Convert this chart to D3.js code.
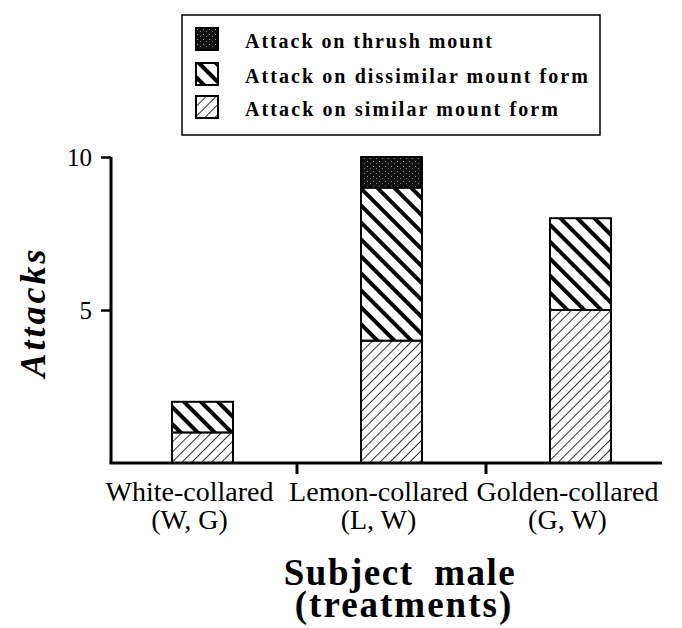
<!DOCTYPE html>
<html>
<head>
<meta charset="utf-8">
<script src="https://cdn.jsdelivr.net/npm/d3@7"></script>
<style>
  body { margin: 0; background: #fff; }
  text { font-family: "Liberation Serif", "Times New Roman", serif; fill: #000; }
</style>
</head>
<body>
<div id="chart"></div>
<script>
// data
var categories = ["White-collared", "Lemon-collared", "Golden-collared"];
var treatments = ["(W, G)", "(L, W)", "(G, W)"];
var similar = [1, 4, 5];
var dissimilar = [1, 5, 3];
var thrush = [0, 1, 0];
var seriesNames = ["Attack on thrush mount", "Attack on dissimilar mount form", "Attack on similar mount form"];
var yTicks = [5, 10];

var svgWidth = 682;
var svgHeight = 628;

var margin = { top: 157, left: 111 };
var baseY = 463;
var labelShift = -13;

var svg = d3.select("#chart")
    .append("svg")
    .attr("width", svgWidth)
    .attr("height", svgHeight);

// patterns
var defs = svg.append("defs");

var pSim = defs.append("pattern")
    .attr("id", "pSim")
    .attr("patternUnits", "userSpaceOnUse")
    .attr("width", 7).attr("height", 7)
    .attr("patternTransform", "rotate(45)");
pSim.append("rect").attr("width", 7).attr("height", 7).attr("fill", "#fff");
pSim.append("line").attr("x1", 0).attr("y1", 0).attr("x2", 0).attr("y2", 7)
    .attr("stroke", "#000").attr("stroke-width", 1.6);

var pDis = defs.append("pattern")
    .attr("id", "pDis")
    .attr("patternUnits", "userSpaceOnUse")
    .attr("width", 12).attr("height", 12)
    .attr("patternTransform", "rotate(-45)");
pDis.append("rect").attr("width", 12).attr("height", 12).attr("fill", "#fff");
pDis.append("line").attr("x1", 0).attr("y1", 0).attr("x2", 0).attr("y2", 12)
    .attr("stroke", "#000").attr("stroke-width", 8);

var pThr = defs.append("pattern")
    .attr("id", "pThr")
    .attr("patternUnits", "userSpaceOnUse")
    .attr("width", 6).attr("height", 5);
pThr.append("rect").attr("width", 6).attr("height", 5).attr("fill", "#111");
pThr.append("rect").attr("x", 1).attr("y", 1).attr("width", 1).attr("height", 1).attr("fill", "#999");
pThr.append("rect").attr("x", 4).attr("y", 3).attr("width", 1).attr("height", 1).attr("fill", "#777");

var fills = { thrush: "url(#pThr)", dissimilar: "url(#pDis)", similar: "url(#pSim)" };

// scales
var xScale = d3.scaleBand()
    .domain(categories)
    .range([108, 675]);

var yScale = d3.scaleLinear()
    .domain([0, 10])
    .range([baseY, margin.top]);

var barWidth = 61;

// stacked data
var rows = categories.map(function (c, i) {
    return { cat: c, similar: similar[i], dissimilar: dissimilar[i], thrush: thrush[i] };
});
var stack = d3.stack().keys(["similar", "dissimilar", "thrush"]);
var layers = stack(rows);

var barGroup = svg.append("g");
layers.forEach(function (layer) {
    barGroup.selectAll(null)
        .data(layer.filter(d => d[1] > d[0]))
        .enter()
        .append("rect")
        .attr("x", d => xScale(d.data.cat) + xScale.bandwidth() / 2 - barWidth / 2)
        .attr("y", d => yScale(d[1]))
        .attr("width", barWidth)
        .attr("height", d => yScale(d[0]) - yScale(d[1]))
        .attr("fill", fills[layer.key])
        .attr("stroke", "#000")
        .attr("stroke-width", 2);
});

// y axis
var yAxis = d3.axisLeft(yScale).tickValues(yTicks).tickSize(10).tickFormat(d3.format("d"));
var yG = svg.append("g")
    .attr("transform", `translate(${margin.left}, 0)`)
    .call(yAxis);
yG.select(".domain").attr("d", `M0,${yScale(10)}V${baseY}`).attr("stroke-width", 3);
yG.selectAll(".tick line").attr("stroke-width", 2.5);
yG.selectAll(".tick text")
    .attr("font-size", 25)
    .attr("x", -19)
    .attr("fill", "#000");

// x axis
svg.append("line")
    .attr("x1", margin.left - 1.5).attr("x2", 662)
    .attr("y1", baseY).attr("y2", baseY)
    .attr("stroke", "#000").attr("stroke-width", 3);

svg.selectAll(".xtick")
    .data(categories.slice(1))
    .enter()
    .append("line")
    .attr("x1", d => xScale(d)).attr("x2", d => xScale(d))
    .attr("y1", baseY).attr("y2", baseY + 11)
    .attr("stroke", "#000").attr("stroke-width", 3);

svg.selectAll(".xlab")
    .data(categories)
    .enter()
    .append("text")
    .attr("x", d => xScale(d) + xScale.bandwidth() / 2 + labelShift)
    .attr("y", 501)
    .attr("text-anchor", "middle")
    .attr("font-size", 28)
    .text(d => d);

svg.selectAll(".xlab2")
    .data(treatments)
    .enter()
    .append("text")
    .attr("x", (d, i) => xScale(categories[i]) + xScale.bandwidth() / 2 + labelShift)
    .attr("y", 529)
    .attr("text-anchor", "middle")
    .attr("font-size", 28)
    .text(d => d);

// axis titles
svg.append("text")
    .attr("x", 400).attr("y", 585)
    .attr("text-anchor", "middle")
    .attr("font-size", 37)
    .attr("font-weight", "bold")
    .attr("letter-spacing", 1.5)
    .attr("word-spacing", 10)
    .text("Subject male");

svg.append("text")
    .attr("x", 404).attr("y", 617)
    .attr("text-anchor", "middle")
    .attr("font-size", 37)
    .attr("font-weight", "bold")
    .attr("letter-spacing", 2)
    .text("(treatments)");

svg.append("text")
    .attr("transform", "translate(45, 312) rotate(-90)")
    .attr("text-anchor", "middle")
    .attr("font-size", 36)
    .attr("font-weight", "bold")
    .attr("font-style", "italic")
    .attr("letter-spacing", 3)
    .text("Attacks");

// legend
var legend = svg.append("g");
legend.append("rect")
    .attr("x", 182).attr("y", 15)
    .attr("width", 418).attr("height", 120)
    .attr("fill", "#fff")
    .attr("stroke", "#000").attr("stroke-width", 1.5);

var legendFills = [fills.thrush, fills.dissimilar, fills.similar];
var legendY = [28, 63, 96];
var legendItems = legend.selectAll(".li")
    .data(seriesNames)
    .enter()
    .append("g")
    .attr("transform", (d, i) => `translate(196, ${legendY[i]})`);

legendItems.append("rect")
    .attr("width", 22).attr("height", 22)
    .attr("fill", (d, i) => legendFills[i])
    .attr("stroke", "#000").attr("stroke-width", 2);

var legendLen = [247, 343, 313];
legendItems.append("text")
    .attr("x", 49).attr("y", 20)
    .attr("font-size", 20)
    .attr("font-weight", "bold")
    .attr("textLength", (d, i) => legendLen[i])
    .attr("lengthAdjust", "spacing")
    .text(d => d);
</script>
</body>
</html>
